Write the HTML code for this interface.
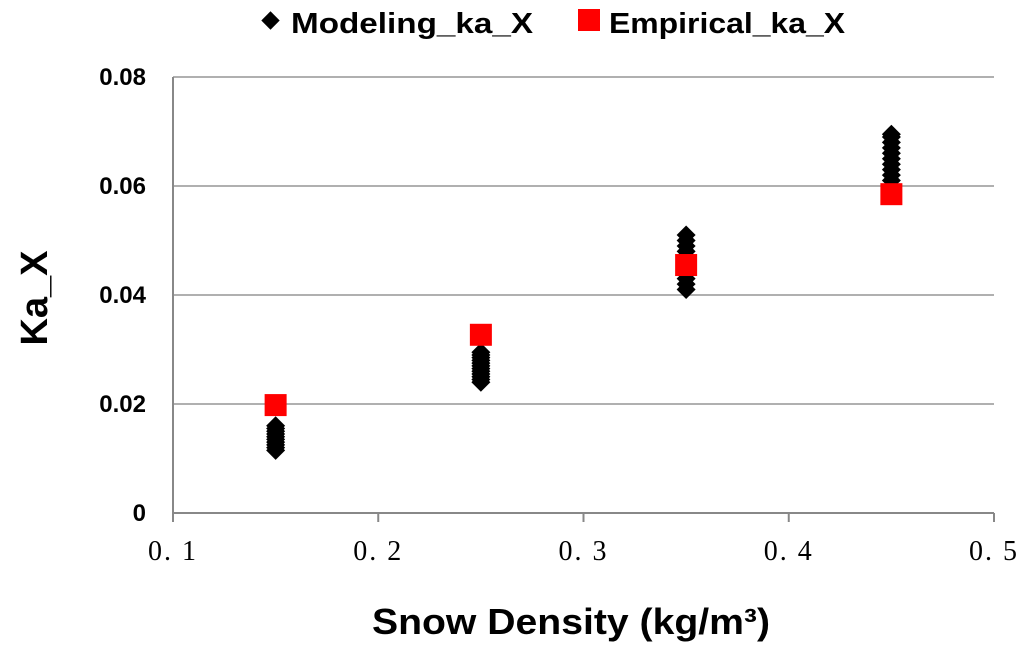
<!DOCTYPE html>
<html><head><meta charset="utf-8"><style>
body{margin:0;background:#fff;width:1024px;height:649px;overflow:hidden}
svg{display:block}
.t{font-family:"Liberation Sans",sans-serif;font-weight:bold;fill:#000}
.s{font-family:"Liberation Serif","Noto Serif CJK SC",serif;fill:#000}
</style></head><body>
<svg id="chart" width="1024" height="649">
<g id="grid"></g><g id="axes"></g><g id="marks"></g>
<g>
<rect x="264" y="14" width="13" height="13" transform="rotate(45 270.5 20.5)" fill="#000"/>
<text class="t" x="291" y="33" font-size="29" textLength="242" lengthAdjust="spacingAndGlyphs">Modeling_ka_X</text>
<rect x="578" y="9" width="22" height="22" fill="#ff0000"/>
<text class="t" x="609" y="33" font-size="29" textLength="236" lengthAdjust="spacingAndGlyphs">Empirical_ka_X</text>
</g>
<text class="t" x="372" y="634" font-size="36" textLength="398" lengthAdjust="spacingAndGlyphs">Snow Density (kg/m³)</text>
<text class="t" transform="translate(47 298) rotate(-90)" font-size="38" text-anchor="middle">Ka_X</text>
</svg>
<script>
const xTicks=[0.1,0.2,0.3,0.4,0.5];
const xTickLabels=["0.1","0.2","0.3","0.4","0.5"];
const yTicks=[0,0.02,0.04,0.06,0.08];
const yTickLabels=["0","0.02","0.04","0.06","0.08"];
const densities=[0.15,0.25,0.35,0.45];
const modeled015=[0.0115,0.012,0.0125,0.013,0.0135,0.014,0.0145,0.015,0.0155,0.016];
const modeled025=[0.024,0.0245,0.025,0.0255,0.026,0.0265,0.027,0.0275,0.028,0.0285,0.029,0.0295];
const modeled035=[0.041,0.042,0.043,0.044,0.045,0.046,0.047,0.048,0.049,0.050,0.051];
const modeled045=[0.061,0.062,0.063,0.064,0.065,0.066,0.067,0.068,0.069,0.0695];
const empirical=[0.0198,0.0327,0.0455,0.0585];
const NS="http://www.w3.org/2000/svg";
const X0=173,X1=994,Y0=513,Y1=77;
function sx(v){return X0+(v-0.1)/0.4*(X1-X0);}
function sy(v){return Y0-v/0.08*(Y0-Y1);}
function mk(tag,attrs,parent){const e=document.createElementNS(NS,tag);for(const k in attrs)e.setAttribute(k,attrs[k]);document.getElementById(parent).appendChild(e);return e;}
yTicks.forEach((v,i)=>{
  if(i>0){const g=mk('line',{x1:X0,x2:X1,y1:sy(v),y2:sy(v),stroke:'#b0b0b0','stroke-width':2},'grid');
  
  }
  const t=mk('text',{x:146,y:sy(v)+8,'font-size':24,'text-anchor':'end',class:'t'},'axes');
  t.textContent=yTickLabels[i];
  
  
});
const ax=mk('line',{x1:X0,x2:X0,y1:Y1,y2:Y0,stroke:'#888','stroke-width':2},'axes');


const bx=mk('line',{x1:X0,x2:X1,y1:Y0,y2:Y0,stroke:'#888','stroke-width':2},'axes');


xTicks.forEach((v,i)=>{
  const l=mk('line',{x1:sx(v),x2:sx(v),y1:Y0,y2:Y0+9,stroke:'#888','stroke-width':2},'axes');
  
  
  const t=mk('text',{x:sx(v),y:560,'font-size':28,'text-anchor':'middle',class:'s','letter-spacing':'2'},'axes');
  t.textContent=xTickLabels[i].replace('.','. ');
  
  
});
[modeled015,modeled025,modeled035,modeled045].forEach((arr,j)=>{
  arr.forEach(v=>{
    const cx=sx(densities[j]),cy=sy(v);
    const p=mk('polygon',{points:`${cx},${cy-9.5} ${cx+9.5},${cy} ${cx},${cy+9.5} ${cx-9.5},${cy}`,fill:'#000'},'marks');
    
    
  });
});
empirical.forEach((v,j)=>{
  const r=mk('rect',{x:sx(densities[j])-11,y:sy(v)-11,width:22,height:22,fill:'#ff0000'},'marks');
  
  
});
</script>
</body></html>
